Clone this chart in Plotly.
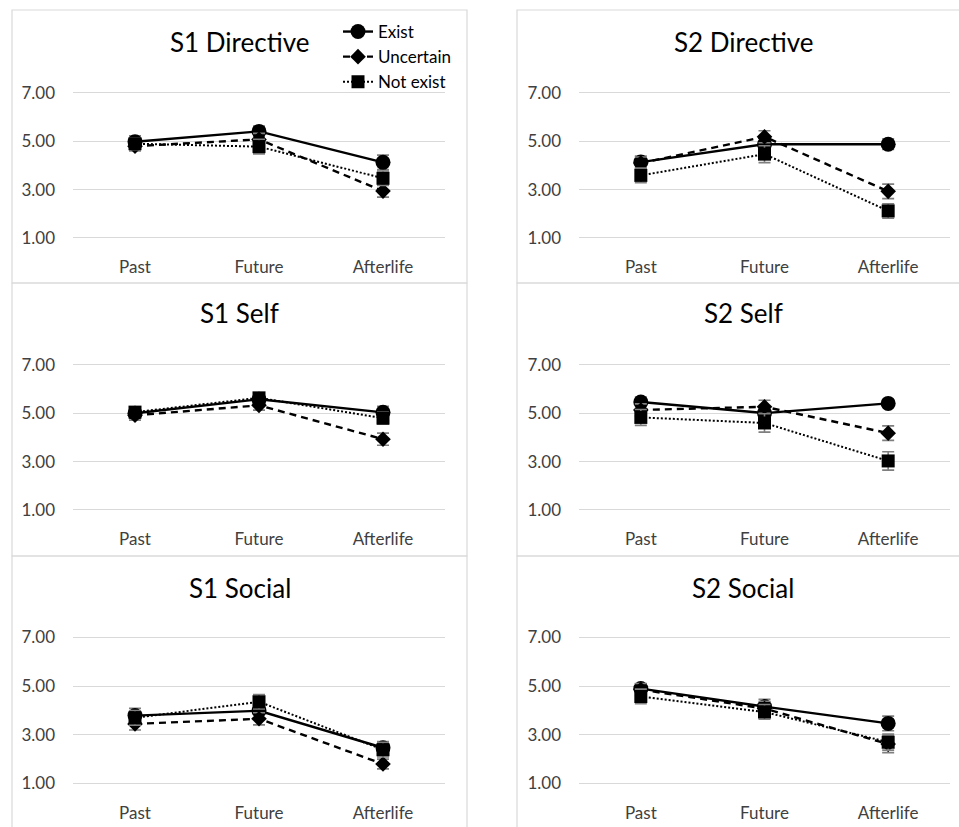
import plotly.graph_objects as go

# ---- data -------------------------------------------------------------
categories = ["Past", "Future", "Afterlife"]
series_names = ["Exist", "Uncertain", "Not exist"]
panel_titles = ["S1 Directive", "S2 Directive", "S1 Self", "S2 Self", "S1 Social", "S2 Social"]
y_ticks = [1, 3, 5, 7]
y_tick_text = ["1.00", "3.00", "5.00", "7.00"]

s1_directive_exist = [4.98, 5.41, 4.13]
s1_directive_uncertain = [4.80, 5.08, 2.94]
s1_directive_notexist = [4.90, 4.78, 3.47]
s1_directive_err_exist = [0.25, 0.22, 0.30]
s1_directive_err_uncertain = [0.20, 0.25, 0.25]
s1_directive_err_notexist = [0.25, 0.30, 0.30]

s2_directive_exist = [4.14, 4.88, 4.88]
s2_directive_uncertain = [4.10, 5.19, 2.93]
s2_directive_notexist = [3.59, 4.47, 2.12]
s2_directive_err_exist = [0.25, 0.25, 0.22]
s2_directive_err_uncertain = [0.25, 0.25, 0.30]
s2_directive_err_notexist = [0.30, 0.35, 0.30]

s1_self_exist = [5.00, 5.58, 5.04]
s1_self_uncertain = [4.92, 5.33, 3.93]
s1_self_notexist = [5.05, 5.64, 4.80]
s1_self_err_exist = [0.20, 0.20, 0.25]
s1_self_err_uncertain = [0.20, 0.20, 0.25]
s1_self_err_notexist = [0.20, 0.20, 0.25]

s2_self_exist = [5.47, 5.01, 5.41]
s2_self_uncertain = [5.14, 5.27, 4.18]
s2_self_notexist = [4.83, 4.60, 3.03]
s2_self_err_exist = [0.20, 0.25, 0.15]
s2_self_err_uncertain = [0.25, 0.27, 0.30]
s2_self_err_notexist = [0.33, 0.38, 0.38]

s1_social_exist = [3.79, 3.99, 2.47]
s1_social_uncertain = [3.45, 3.66, 1.80]
s1_social_notexist = [3.70, 4.36, 2.39]
s1_social_err_exist = [0.30, 0.30, 0.25]
s1_social_err_uncertain = [0.25, 0.25, 0.20]
s1_social_err_notexist = [0.30, 0.30, 0.30]

s2_social_exist = [4.90, 4.16, 3.47]
s2_social_uncertain = [4.86, 4.08, 2.62]
s2_social_notexist = [4.58, 3.94, 2.70]
s2_social_err_exist = [0.20, 0.30, 0.30]
s2_social_err_uncertain = [0.25, 0.30, 0.35]
s2_social_err_notexist = [0.30, 0.30, 0.33]

panels = [
    ([s1_directive_exist, s1_directive_uncertain, s1_directive_notexist],
     [s1_directive_err_exist, s1_directive_err_uncertain, s1_directive_err_notexist]),
    ([s2_directive_exist, s2_directive_uncertain, s2_directive_notexist],
     [s2_directive_err_exist, s2_directive_err_uncertain, s2_directive_err_notexist]),
    ([s1_self_exist, s1_self_uncertain, s1_self_notexist],
     [s1_self_err_exist, s1_self_err_uncertain, s1_self_err_notexist]),
    ([s2_self_exist, s2_self_uncertain, s2_self_notexist],
     [s2_self_err_exist, s2_self_err_uncertain, s2_self_err_notexist]),
    ([s1_social_exist, s1_social_uncertain, s1_social_notexist],
     [s1_social_err_exist, s1_social_err_uncertain, s1_social_err_notexist]),
    ([s2_social_exist, s2_social_uncertain, s2_social_notexist],
     [s2_social_err_exist, s2_social_err_uncertain, s2_social_err_notexist]),
]

# ---- styling ----------------------------------------------------------
W, H = 959, 827
FONT = "Lato, Carlito, Calibri, sans-serif"
line_dash = ["solid", "7px,5px", "2px,2px"]
line_width = [2.4, 2.4, 2.0]
marker_symbol = ["circle", "diamond", "square"]
marker_size = [15, 12, 13]

# pixel geometry of each panel column / row
col_frame = [(12, 467), (517, 975)]
col_plot = [(73, 445), (579, 950)]
row_frame = [(10, 283), (283, 556), (556, 840)]
row_y1 = [238.0, 510.0, 783.5]      # pixel row of the value 1.00
row_unit = [24.17, 24.17, 24.33]    # pixels per unit
row_title_y = [42, 313, 588]
Y_LO, Y_HI = 0.3, 7.5


def px_x(p):
    return p / W


def px_y(p):
    return 1 - p / H


fig = go.Figure()

for i, (values, errors) in enumerate(panels):
    r, c = divmod(i, 2)
    ax = "" if i == 0 else str(i + 1)
    x0, x1 = col_plot[c]
    bottom = row_y1[r] + (1 - Y_LO) * row_unit[r]
    top = row_y1[r] - (Y_HI - 1) * row_unit[r]

    fig.update_layout(**{
        f"xaxis{ax}": dict(
            domain=[px_x(x0), px_x(x1)],
            type="category", range=[-0.5, 2.5],
            showgrid=False, showline=False, zeroline=False, ticks="",
            tickfont=dict(family=FONT, size=17, color="#404040"),
            anchor=f"y{ax}", fixedrange=True,
        ),
        f"yaxis{ax}": dict(
            domain=[px_y(bottom), px_y(top)],
            range=[Y_LO, Y_HI],
            tickvals=y_ticks, ticktext=y_tick_text,
            showgrid=True, gridcolor="#d9d9d9", gridwidth=1.4,
            showline=False, zeroline=False, ticks="",
            ticklabelstandoff=17,
            tickfont=dict(family=FONT, size=17, color="#404040"),
            anchor=f"x{ax}", fixedrange=True,
        ),
    })

    for k in range(3):
        fig.add_trace(go.Scatter(
            x=categories, y=values[k],
            xaxis=f"x{ax}", yaxis=f"y{ax}",
            name=series_names[k], legendgroup=series_names[k],
            showlegend=(i == 0),
            mode="lines+markers",
            line=dict(color="black", width=line_width[k], dash=line_dash[k]),
            marker=dict(symbol=marker_symbol[k], size=marker_size[k], color="black"),
            error_y=dict(type="data", array=errors[k], visible=True,
                         color="#7f7f7f", thickness=1.6, width=6),
        ))

    # panel frame and heading
    fx0, fx1 = col_frame[c]
    fy0, fy1 = row_frame[r]
    fig.add_shape(type="rect", xref="paper", yref="paper",
                  x0=px_x(fx0), x1=px_x(fx1), y0=px_y(fy1), y1=px_y(fy0),
                  line=dict(color="#d9d9d9", width=1.2), layer="below")
    fig.add_annotation(
        text=panel_titles[i], xref="paper", yref="paper",
        x=px_x((fx0 + fx1) / 2 if c == 0 else 743), y=px_y(row_title_y[r]),
        xanchor="center", yanchor="middle", showarrow=False,
        font=dict(family=FONT, size=26, color="#000000"),
    )

fig.update_layout(
    width=W, height=H,
    margin=dict(l=0, r=0, t=0, b=0),
    paper_bgcolor="white", plot_bgcolor="white",
    font=dict(family=FONT, color="#000000"),
    legend=dict(
        x=px_x(338), y=px_y(14), xanchor="left", yanchor="top",
        bgcolor="rgba(0,0,0,0)", borderwidth=0,
        font=dict(family=FONT, size=17, color="#000000"),
        tracegroupgap=0, itemwidth=30,
    ),
)

fig.write_html("out.html")
